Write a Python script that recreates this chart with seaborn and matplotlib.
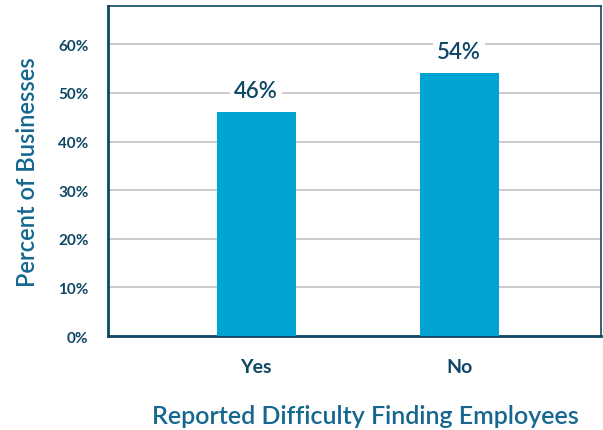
import matplotlib
matplotlib.use("Agg")
import matplotlib.pyplot as plt
import seaborn as sns
import pandas as pd

# Survey responses
categories = ["Yes", "No"]
percent_values = [46, 54]
y_ticks = [0, 10, 20, 30, 40, 50, 60]
y_tick_labels = ["0%", "10%", "20%", "30%", "40%", "50%", "60%"]

navy = "#0e4766"
title_blue = "#15678f"
bar_blue = "#02a4d3"

sns.set_theme(style="white")
plt.rcParams["font.family"] = ["Lato", "DejaVu Sans"]

df = pd.DataFrame({"answer": categories, "percent": percent_values})

fig = plt.figure(figsize=(6.03, 4.31), dpi=100)
ax = fig.add_axes([0.179, 0.218, 0.818, 0.766])

sns.barplot(data=df, x="answer", y="percent", color=bar_blue, width=0.39,
            saturation=1, linewidth=0, ax=ax, zorder=3)

ax.set_xlim(-0.73, 1.70)
ax.set_ylim(0, 67.9)
ax.set_yticks(y_ticks)
ax.set_yticklabels(y_tick_labels)
ax.yaxis.grid(True, color="#bdbdbd", linewidth=1.1, zorder=0)
ax.set_axisbelow(True)

for side in ["left", "bottom"]:
    ax.spines[side].set_linewidth(2.0)
    ax.spines[side].set_color(navy)
for side in ["top", "right"]:
    ax.spines[side].set_linewidth(1.2)
    ax.spines[side].set_color(navy)

ax.tick_params(axis="y", length=0, pad=14, labelsize=11, labelcolor=navy)
ax.tick_params(axis="x", length=0, pad=16, labelsize=14, labelcolor=navy)
for lab in ax.get_yticklabels() + ax.get_xticklabels():
    lab.set_fontweight("bold")

labels = ax.bar_label(ax.containers[0], labels=[f"{v}%" for v in percent_values],
                      padding=8, fontsize=16, color=navy, fontweight="semibold")
for t in labels:
    t.set_bbox(dict(facecolor="white", edgecolor="none", pad=3))
    t.set_zorder(4)

ax.set_xlabel("Reported Difficulty Finding Employees", fontsize=18,
              color=title_blue, fontweight="semibold")
ax.xaxis.set_label_coords(0.522, -0.205)
ax.set_ylabel("Percent of Businesses", fontsize=17,
              color=title_blue, fontweight="semibold", labelpad=14)

fig.savefig("out.png", dpi=100)
